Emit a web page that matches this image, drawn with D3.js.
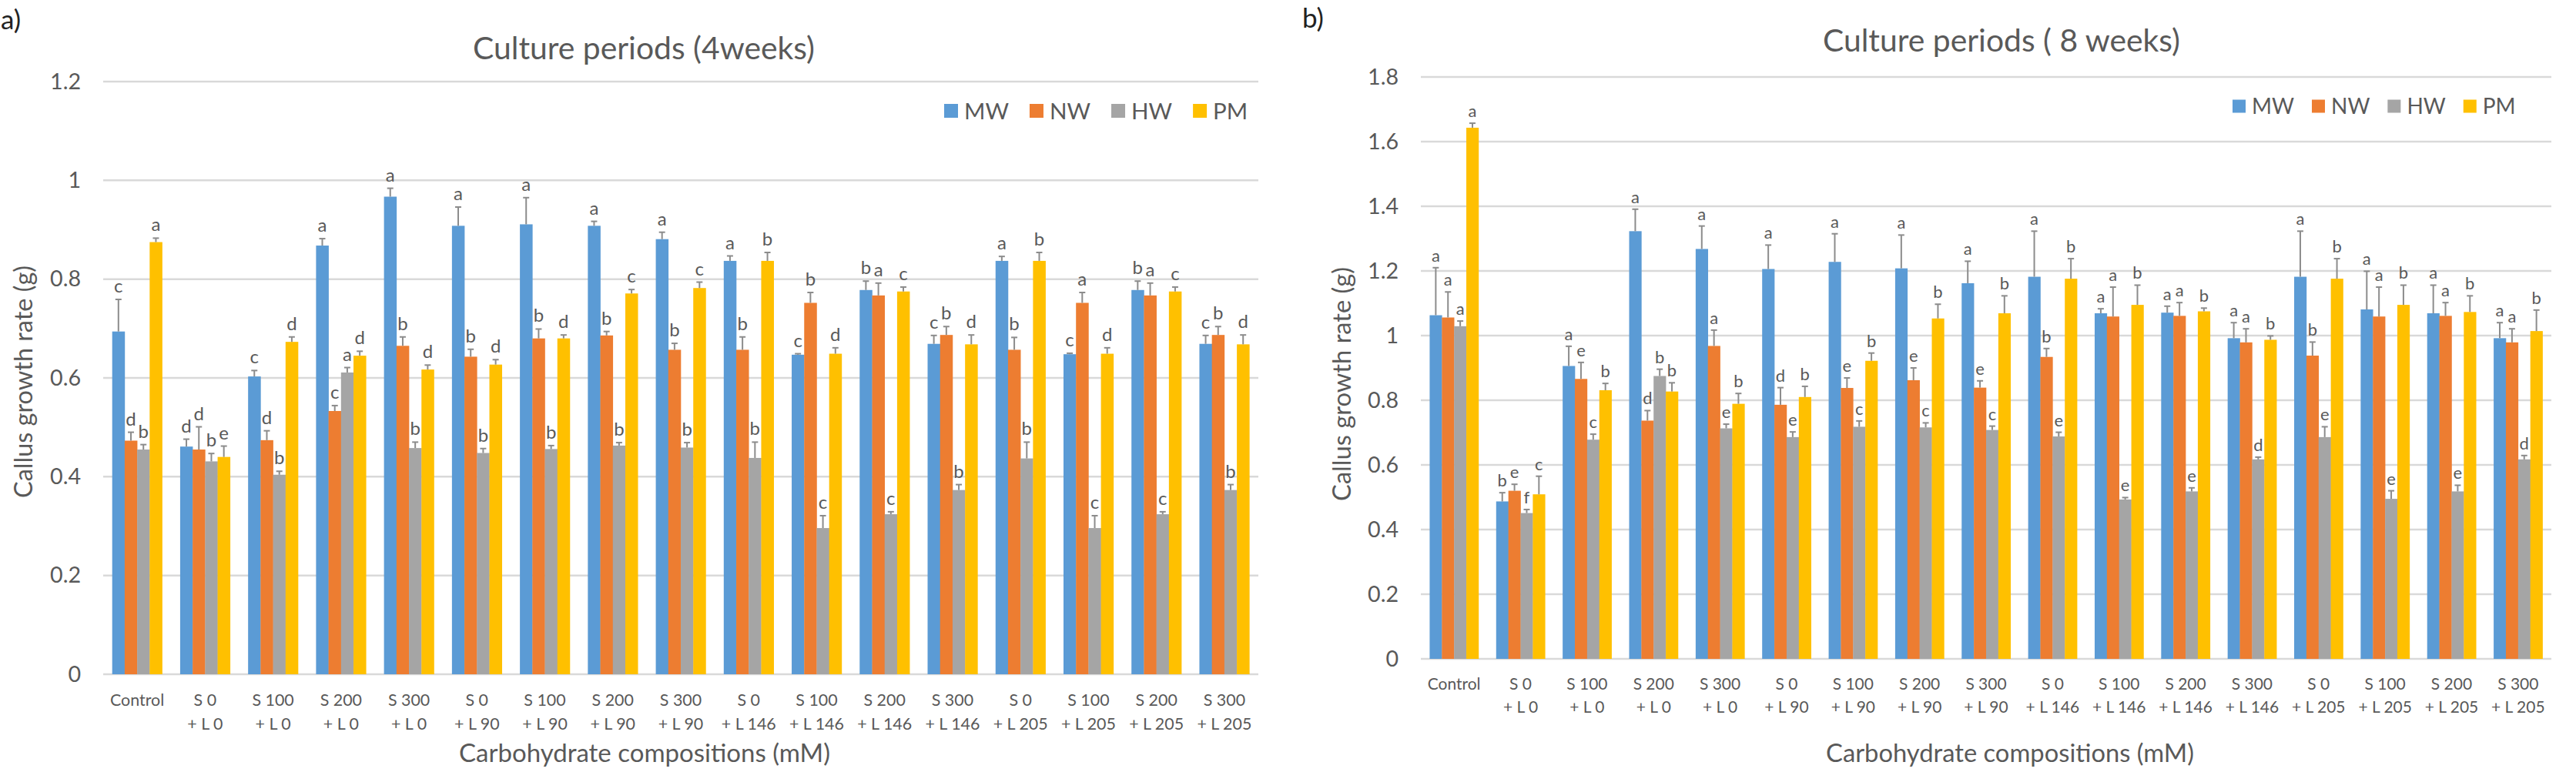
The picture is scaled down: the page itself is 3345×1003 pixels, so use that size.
<!DOCTYPE html>
<html><head><meta charset="utf-8">
<script src="https://cdn.jsdelivr.net/npm/d3@7"></script>
<style>
body{margin:0;background:#fff;}
svg{display:block;}
text{font-family:Lato,'Open Sans','DejaVu Sans',sans-serif;fill:#595959;}
</style>
</head><body>
<svg id="c" width="3345" height="1003"></svg>
<script>
// ---------- data ----------
const categories = ["Control","S 0|+ L 0","S 100|+ L 0","S 200|+ L 0","S 300|+ L 0",
  "S 0|+ L 90","S 100|+ L 90","S 200|+ L 90","S 300|+ L 90",
  "S 0|+ L 146","S 100|+ L 146","S 200|+ L 146","S 300|+ L 146",
  "S 0|+ L 205","S 100|+ L 205","S 200|+ L 205","S 300|+ L 205"];
const seriesNames = ["MW","NW","HW","PM"];
const seriesColors = ["#5B9BD5","#ED7D31","#A5A5A5","#FFC000"];

// 4 weeks
const w4_MW = [0.694,0.461,0.603,0.868,0.967,0.908,0.911,0.908,0.881,0.837,0.647,0.778,0.669,0.837,0.648,0.778,0.669];
const w4_NW = [0.473,0.455,0.474,0.533,0.665,0.643,0.680,0.686,0.657,0.657,0.752,0.767,0.687,0.657,0.752,0.767,0.687];
const w4_HW = [0.455,0.431,0.404,0.611,0.458,0.448,0.456,0.463,0.459,0.438,0.296,0.324,0.373,0.437,0.296,0.324,0.373];
const w4_PM = [0.875,0.440,0.673,0.645,0.617,0.627,0.680,0.771,0.782,0.837,0.649,0.775,0.668,0.837,0.649,0.775,0.668];
const w4_MW_err = [0.065,0.015,0.012,0.014,0.017,0.038,0.054,0.009,0.014,0.010,0.002,0.018,0.017,0.009,0.002,0.018,0.017];
const w4_NW_err = [0.017,0.046,0.019,0.011,0.018,0.015,0.019,0.008,0.013,0.026,0.021,0.025,0.017,0.025,0.021,0.025,0.017];
const w4_HW_err = [0.010,0.016,0.007,0.010,0.012,0.009,0.007,0.006,0.010,0.032,0.025,0.005,0.011,0.033,0.025,0.005,0.011];
const w4_PM_err = [0.008,0.022,0.010,0.009,0.009,0.010,0.007,0.008,0.012,0.017,0.012,0.009,0.019,0.017,0.012,0.009,0.019];
const w4_MW_let = ["c","d","c","a","a","a","a","a","a","a","c","b","c","a","c","b","c"];
const w4_NW_let = ["d","d","d","c","b","b","b","b","b","b","b","a","b","b","a","a","b"];
const w4_HW_let = ["b","b","b","a","b","b","b","b","b","b","c","c","b","b","c","c","b"];
const w4_PM_let = ["a","e","d","d","d","d","d","c","c","b","d","c","d","b","d","c","d"];
const w4_ticks = [0,0.2,0.4,0.6,0.8,1,1.2];

// 8 weeks
const w8_MW = [1.063,0.487,0.906,1.323,1.268,1.206,1.228,1.208,1.162,1.182,1.069,1.071,0.992,1.182,1.081,1.069,0.992];
const w8_NW = [1.056,0.520,0.866,0.737,0.968,0.786,0.838,0.862,0.839,0.934,1.059,1.061,0.979,0.938,1.059,1.061,0.979];
const w8_HW = [1.029,0.451,0.678,0.875,0.713,0.686,0.718,0.716,0.708,0.688,0.493,0.518,0.617,0.686,0.495,0.518,0.617];
const w8_PM = [1.643,0.509,0.831,0.827,0.789,0.810,0.922,1.053,1.069,1.176,1.095,1.075,0.987,1.176,1.095,1.073,1.014];
const w8_MW_err = [0.147,0.027,0.061,0.068,0.071,0.074,0.087,0.103,0.068,0.141,0.014,0.020,0.048,0.141,0.118,0.087,0.048];
const w8_NW_err = [0.079,0.020,0.051,0.031,0.049,0.053,0.031,0.038,0.021,0.026,0.091,0.041,0.042,0.042,0.091,0.041,0.042];
const w8_HW_err = [0.016,0.011,0.017,0.021,0.013,0.016,0.018,0.014,0.012,0.013,0.006,0.011,0.007,0.032,0.025,0.019,0.012];
const w8_PM_err = [0.014,0.056,0.021,0.027,0.032,0.033,0.024,0.044,0.054,0.062,0.061,0.010,0.012,0.062,0.061,0.050,0.065];
const w8_MW_let = ["a","b","a","a","a","a","a","a","a","a","a","a","a","a","a","a","a"];
const w8_NW_let = ["a","e","e","d","a","d","e","e","e","b","a","a","a","b","a","a","a"];
const w8_HW_let = ["a","f","c","b","e","e","c","c","c","e","e","e","d","e","e","e","d"];
const w8_PM_let = ["a","c","b","b","b","b","b","b","b","b","b","b","b","b","b","b","b"];
const w8_ticks = [0,0.2,0.4,0.6,0.8,1,1.2,1.4,1.6,1.8];

const svg = d3.select("#c");

function fitText(sel, width){
  const n = sel.node();
  const fs = parseFloat(sel.attr("font-size"));
  const w = n.getComputedTextLength();
  sel.attr("font-size", (fs*width/w).toFixed(2));
}
function fontFor(str, width){
  const t = svg.append("text").attr("font-size", 20).text(str);
  const w = t.node().getComputedTextLength();
  t.remove();
  return 20*width/w;
}

function drawChart(cfg){
  const g = svg.append("g");
  const x = d3.scaleBand().domain(categories).range([cfg.x0, cfg.x1]).paddingInner(0.265).paddingOuter(0.1325);
  const xs = d3.scaleBand().domain(seriesNames).range([0, x.bandwidth()]);
  const y = d3.scaleLinear().domain([0, cfg.ticks[cfg.ticks.length-1]]).range([cfg.yBase, cfg.yTop]);

  // gridlines
  g.append("g").selectAll("line").data(cfg.ticks).join("line")
    .attr("x1", cfg.x0).attr("x2", cfg.x1)
    .attr("y1", d=>y(d)).attr("y2", d=>y(d))
    .attr("stroke", "#d9d9d9").attr("stroke-width", 2.5);

  // y axis labels
  const tickFs = fontFor("1.2", cfg.tickW);
  const yAxis = d3.axisLeft(y).tickValues(cfg.ticks).tickFormat(d=>String(+d.toFixed(1))).tickSize(0).tickPadding(0);
  const ya = g.append("g").attr("transform", `translate(${cfg.x0-cfg.tickGap},0)`).call(yAxis);
  ya.select(".domain").remove();
  ya.selectAll("text").attr("font-size", tickFs).attr("font-family","Lato, sans-serif").attr("fill","#595959");

  // bars
  const data = [];
  categories.forEach((c,i)=>{
    cfg.series.forEach((s,j)=>{
      data.push({cat:c, ser:seriesNames[j], v:s.v[i], e:s.e[i], l:s.l[i], col:seriesColors[j]});
    });
  });
  g.append("g").selectAll("rect").data(data).join("rect")
    .attr("x", d=>x(d.cat)+xs(d.ser))
    .attr("width", xs.bandwidth()+0.3)
    .attr("y", d=>y(d.v))
    .attr("height", d=>y(0)-y(d.v))
    .attr("fill", d=>d.col);

  // error bars
  const eb = g.append("g").attr("stroke","#8c8c8c").attr("stroke-width",2);
  data.forEach(d=>{
    const cx = x(d.cat)+xs(d.ser)+xs.bandwidth()/2;
    eb.append("line").attr("x1",cx).attr("x2",cx).attr("y1",y(d.v)).attr("y2",y(d.v+d.e));
    eb.append("line").attr("x1",cx-4).attr("x2",cx+4).attr("y1",y(d.v+d.e)).attr("y2",y(d.v+d.e));
  });

  // letters
  g.append("g").selectAll("text").data(data).join("text")
    .attr("x", d=>x(d.cat)+xs(d.ser)+xs.bandwidth()/2)
    .attr("y", d=>y(d.v+d.e)-cfg.letterGap)
    .attr("text-anchor","middle")
    .attr("font-size", cfg.letterFont)
    .text(d=>d.l);

  // category labels
  const catFs = fontFor("+ L 146", cfg.catW);
  const xa = g.append("g").attr("transform",`translate(0,${cfg.yBase})`).call(d3.axisBottom(x).tickSize(0).tickFormat(""));
  xa.select(".domain").remove();
  const cl = g.append("g").selectAll("text").data(categories).join("text")
    .attr("x", d=>x(d)+x.bandwidth()/2)
    .attr("y", cfg.yBase+cfg.catLine1)
    .attr("text-anchor","middle")
    .attr("font-size", catFs);
  cl.each(function(d){
    const parts = d.split("|");
    const t = d3.select(this);
    parts.forEach((p,k)=>{
      t.append("tspan").attr("x", x(d)+x.bandwidth()/2).attr("dy", k===0?0:cfg.catLineH).text(p);
    });
  });

  // title
  const tt = g.append("text").attr("x", cfg.titleX).attr("y", cfg.titleY).attr("text-anchor","middle")
    .attr("font-size", 40).text(cfg.title);
  fitText(tt, cfg.titleW);

  // axis titles
  const xt = g.append("text").attr("x", cfg.xTitleX).attr("y", cfg.xTitleY).attr("text-anchor","middle")
    .attr("font-size", 32).text("Carbohydrate compositions (mM)");
  fitText(xt, cfg.xTitleW);
  const ytt = g.append("text").attr("transform",`translate(${cfg.yTitleX},${cfg.yTitleY}) rotate(-90)`)
    .attr("text-anchor","middle").attr("font-size", 32).attr("font-family","'Open Sans', sans-serif")
    .text("Callus growth rate (g)");
  fitText(ytt, cfg.yTitleW);

  // panel letter
  g.append("text").attr("x", cfg.panelX).attr("y", cfg.panelY).attr("font-size", 35).style("fill","#222")
    .text(cfg.panel);

  // legend
  let lx = cfg.legX;
  seriesNames.forEach((s,j)=>{
    g.append("rect").attr("x", lx).attr("y", cfg.legY-cfg.legSq/2).attr("width", cfg.legSq).attr("height", cfg.legSq).attr("fill", seriesColors[j]);
    const t = g.append("text").attr("x", lx+cfg.legSq+8).attr("y", cfg.legY).attr("dy","0.36em")
      .attr("font-size", cfg.legFont).text(s);
    lx = lx + cfg.legSq + 8 + t.node().getComputedTextLength() + cfg.legGap;
  });
}

drawChart({
  x0:134, x1:1634, yBase:876, yTop:106, ticks:w4_ticks, tickGap:29, tickW:40,
  series:[{v:w4_MW,e:w4_MW_err,l:w4_MW_let},{v:w4_NW,e:w4_NW_err,l:w4_NW_let},{v:w4_HW,e:w4_HW_err,l:w4_HW_let},{v:w4_PM,e:w4_PM_err,l:w4_PM_let}],
  letterGap:9, letterFont:24, catW:71, catLine1:41, catLineH:31,
  title:"Culture periods (4weeks)", titleX:836, titleY:77, titleW:444,
  xTitleX:837, xTitleY:990, xTitleW:482,
  yTitleX:42, yTitleY:496, yTitleW:302,
  panel:"a)", panelX:1, panelY:38,
  legX:1226, legY:144, legSq:18, legFont:29.5, legGap:27
});
drawChart({
  x0:1845, x1:3313, yBase:856, yTop:100, ticks:w8_ticks, tickGap:29, tickW:40,
  series:[{v:w8_MW,e:w8_MW_err,l:w8_MW_let},{v:w8_NW,e:w8_NW_err,l:w8_NW_let},{v:w8_HW,e:w8_HW_err,l:w8_HW_let},{v:w8_PM,e:w8_PM_err,l:w8_PM_let}],
  letterGap:8, letterFont:22, catW:69.5, catLine1:40, catLineH:30,
  title:"Culture periods ( 8 weeks)", titleX:2599, titleY:67, titleW:464,
  xTitleX:2610, xTitleY:990, xTitleW:478,
  yTitleX:1754, yTitleY:499, yTitleW:304,
  panel:"b)", panelX:1691, panelY:36,
  legX:2899, legY:138, legSq:17, legFont:28, legGap:23
});
</script>
</body></html>
